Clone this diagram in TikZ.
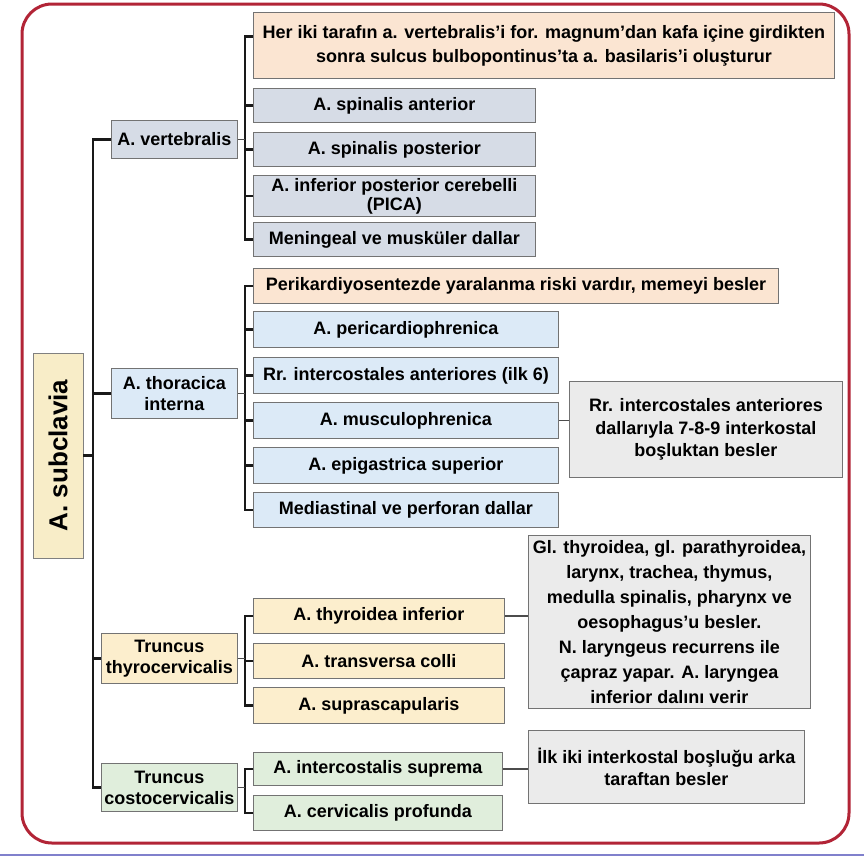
\documentclass[tikz,border=0pt]{standalone}
\usepackage{fontspec}
\setmainfont{Liberation Sans}
\definecolor{peach}{RGB}{251,229,210}
\definecolor{gblue}{RGB}{214,220,230}
\definecolor{lblue}{RGB}{220,234,247}
\definecolor{lyell}{RGB}{252,238,205}
\definecolor{ryell}{RGB}{248,237,200}
\definecolor{lgreen}{RGB}{224,238,220}
\definecolor{ngray}{RGB}{235,235,235}
\definecolor{frred}{RGB}{178,36,54}
\begin{document}
\begin{tikzpicture}[x=1pt,y=-1pt,
  box/.style={draw=black!55, line width=0.9pt, anchor=north west, inner sep=2pt, align=center,
    font=\fontsize{18}{21}\selectfont\bfseries},
  note/.style={box, fill=ngray, font=\fontsize{18}{22.5}\selectfont\bfseries},
  trk/.style={line width=2.6pt, black!90},
  lnk/.style={line width=1.3pt, black!70},
]
\useasboundingbox (0,0) rectangle (864,857);
\fill[white] (0,0) rectangle (864,857);
\draw[frred, line width=3pt, rounded corners=30pt] (22,4) rectangle (849,843);
\draw[black!40!blue!50, line width=1.2pt] (0,855) -- (864,855);

% root
\node[draw=black!50, line width=0.9pt, fill=ryell, rotate=90, minimum width=205pt, minimum height=50pt,
  font=\fontsize{26}{30}\selectfont\bfseries] (root) at (58,455.5) {A. subclavia};

% level 1
\node[box, fill=gblue, minimum width=126pt, minimum height=38pt] (vert) at (111,120) {A. vertebralis};
\node[box, fill=lblue, minimum width=126pt, minimum height=50pt] (thor) at (111,368) {A. thoracica\\interna};
\node[box, fill=lyell, minimum width=136pt, minimum height=50pt] (thyro) at (101,633) {Truncus\\thyrocervicalis};
\node[box, fill=lgreen, minimum width=136pt, minimum height=48pt] (costo) at (101,763) {Truncus\\costocervicalis};

% vertebralis
\node[box, fill=peach, minimum width=581pt, minimum height=66pt, font=\fontsize{18}{24}\selectfont\bfseries] (vn) at (253,12)
  {Her iki tarafın a. vertebralis'i for. magnum'dan kafa içine girdikten\\sonra sulcus bulbopontinus'ta a. basilaris'i oluşturur};
\node[box, fill=gblue, minimum width=282pt, minimum height=34pt] (va) at (253,88) {A. spinalis anterior};
\node[box, fill=gblue, minimum width=282pt, minimum height=34pt] (vp) at (253,132) {A. spinalis posterior};
\node[box, fill=gblue, minimum width=282pt, minimum height=41pt, font=\fontsize{18}{19}\selectfont\bfseries] (vpica) at (253,175) {A. inferior posterior cerebelli\\(PICA)};
\node[box, fill=gblue, minimum width=282pt, minimum height=34pt] (vmen) at (253,222) {Meningeal ve musküler dallar};

% thoracica interna
\node[box, fill=peach, minimum width=525pt, minimum height=35pt] (tn) at (253,268) {Perikardiyosentezde yaralanma riski vardır, memeyi besler};
\node[box, fill=lblue, minimum width=305pt, minimum height=36pt] (tpc) at (253,311) {A. pericardiophrenica};
\node[box, fill=lblue, minimum width=305pt, minimum height=36pt] (tri) at (253,357) {Rr. intercostales anteriores (ilk 6)};
\node[box, fill=lblue, minimum width=305pt, minimum height=36pt] (tmu) at (253,402) {A. musculophrenica};
\node[box, fill=lblue, minimum width=305pt, minimum height=36pt] (tep) at (253,447) {A. epigastrica superior};
\node[box, fill=lblue, minimum width=305pt, minimum height=35pt] (tme) at (253,492) {Mediastinal ve perforan dallar};
\node[note, minimum width=273pt, minimum height=96pt] (tnote) at (569,381)
  {Rr. intercostales anteriores\\dallarıyla 7-8-9 interkostal\\boşluktan besler};

% thyrocervicalis
\node[box, fill=lyell, minimum width=251pt, minimum height=35pt] (yti) at (253,598) {A. thyroidea inferior};
\node[box, fill=lyell, minimum width=251pt, minimum height=35pt] (ytc) at (253,643) {A. transversa colli};
\node[box, fill=lyell, minimum width=251pt, minimum height=36pt] (yss) at (253,687) {A. suprascapularis};
\node[note, minimum width=282pt, minimum height=173pt, font=\fontsize{18}{25}\selectfont\bfseries] (ynote) at (528,535)
  {Gl. thyroidea, gl. parathyroidea,\\larynx, trachea, thymus,\\medulla spinalis, pharynx ve\\oesophagus'u besler.\\N. laryngeus recurrens ile\\çapraz yapar. A. laryngea\\inferior dalını verir};

% costocervicalis
\node[box, fill=lgreen, minimum width=249pt, minimum height=33pt] (cis) at (253,752) {A. intercostalis suprema};
\node[box, fill=lgreen, minimum width=249pt, minimum height=35pt] (ccp) at (253,795) {A. cervicalis profunda};
\node[note, minimum width=276pt, minimum height=73pt] (cnote) at (528,730)
  {İlk iki interkostal boşluğu arka\\taraftan besler};

% buses
\coordinate (b0) at (93,0);
\coordinate (b1) at (245,0);
\coordinate (vnc) at ([yshift=9pt]vn.west);

\draw[trk] (root.south) -- (root.south -| b0);
\draw[trk] (vert.west) -- (vert.west -| b0) -- (costo.west -| b0) -- (costo.west);
\draw[trk] (thor.west) -- (thor.west -| b0);
\draw[trk] (thyro.west) -- (thyro.west -| b0);

\draw[trk] (vnc) -- (vnc -| b1) -- (vmen.west -| b1) -- (vmen.west);
\draw[lnk] (vert.east) -- (vert.east -| b1);
\foreach \n in {va,vp,vpica} \draw[trk] (\n.west) -- (\n.west -| b1);

\draw[trk] (tn.west) -- (tn.west -| b1) -- (tme.west -| b1) -- (tme.west);
\draw[lnk] (thor.east) -- (thor.east -| b1);
\foreach \n in {tpc,tri,tmu,tep} \draw[trk] (\n.west) -- (\n.west -| b1);

\draw[trk] (yti.west) -- (yti.west -| b1) -- (yss.west -| b1) -- (yss.west);
\draw[lnk] (thyro.east) -- (thyro.east -| b1);
\draw[trk] (ytc.west) -- (ytc.west -| b1);

\draw[trk] (cis.west) -- (cis.west -| b1) -- (ccp.west -| b1) -- (ccp.west);
\draw[lnk] (costo.east) -- (costo.east -| b1);

\draw[lnk] (tmu.east) -- (tmu.east -| tnote.west);
\draw[lnk] (yti.east) -- (yti.east -| ynote.west);
\draw[lnk] (cis.east) -- (cis.east -| cnote.west);
\end{tikzpicture}
\end{document}
